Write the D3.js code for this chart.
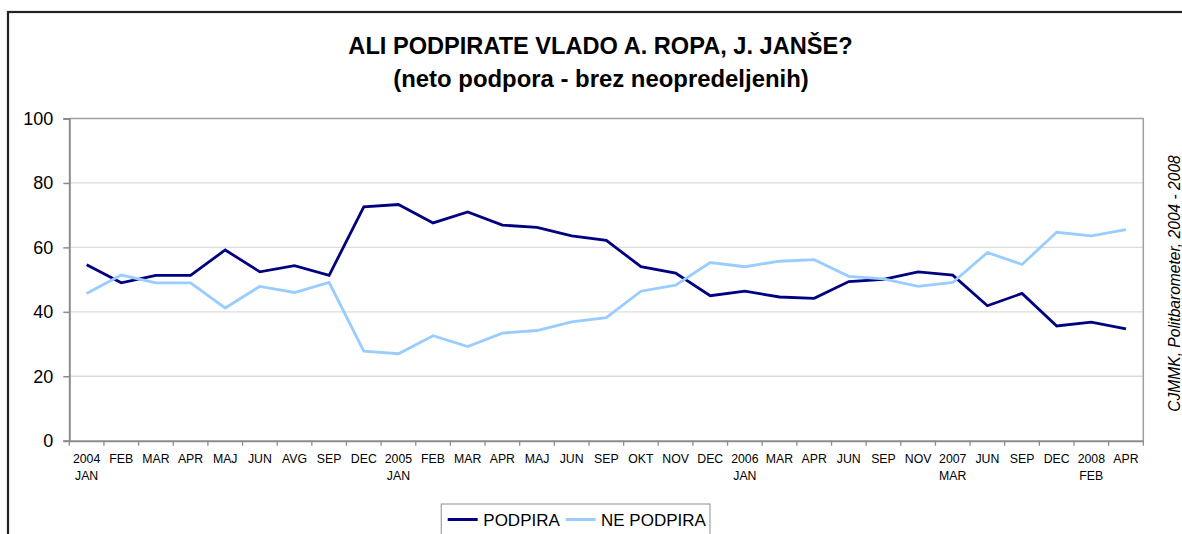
<!DOCTYPE html>
<html>
<head>
<meta charset="utf-8">
<script src="https://cdn.jsdelivr.net/npm/d3@7"></script>
<style>
  html, body { margin: 0; padding: 0; background: #fff; }
  svg { display: block; }
  text { font-family: "Liberation Sans", Arial, sans-serif; fill: #000; }
</style>
</head>
<body>
<svg id="chart" width="1182" height="534"></svg>
<script>
// ---- data ----
const yearLabels  = ["2004","","","","","","","","","2005","","","","","","","","","","2006","","","","","","2007","","","","2008",""];
const monthLabels = ["JAN","FEB","MAR","APR","MAJ","JUN","AVG","SEP","DEC","JAN","FEB","MAR","APR","MAJ","JUN","SEP","OKT","NOV","DEC","JAN","MAR","APR","JUN","SEP","NOV","MAR","JUN","SEP","DEC","FEB","APR"];
const podpira   = [54.6,49.0,51.3,51.3,59.2,52.4,54.3,51.3,72.6,73.3,67.6,71.0,66.9,66.2,63.6,62.2,54.0,52.0,45.0,46.4,44.6,44.2,49.4,50.1,52.4,51.4,41.9,45.7,35.6,36.8,34.7];
const nePodpira = [45.7,51.4,49.0,49.0,41.2,47.9,46.0,49.1,27.8,27.0,32.6,29.2,33.4,34.2,36.9,38.2,46.4,48.3,55.3,54.0,55.7,56.2,51.0,50.2,47.9,49.1,58.4,54.7,64.7,63.6,65.5];
const yTicks = [0,20,40,60,80,100];
const seriesNames = ["PODPIRA","NE PODPIRA"];
const title1 = "ALI PODPIRATE VLADO A. ROPA, J. JANŠE?";
const title2 = "(neto podpora - brez neopredeljenih)";
const sourceNote = "CJMMK, Politbarometer, 2004 - 2008";

// ---- layout ----
const svg = d3.select("#chart");
const pL = 69.3, pR = 1143.3, pT = 118.5, pB = 440.7;
const idx = d3.range(monthLabels.length);
const x = d3.scaleBand().domain(idx).range([pL, pR]).padding(0);
const y = d3.scaleLinear().domain([0, 100]).range([pB, pT]);
const colors = ["#000080", "#99ccff"];

// outer frame
svg.append("rect").attr("x", 8).attr("y", 12).attr("width", 1300).attr("height", 700)
  .attr("fill", "none").attr("stroke", "#222").attr("stroke-width", 2.2);

// titles
svg.append("text").attr("x", 600.5).attr("y", 54).attr("text-anchor", "middle")
  .style("font-size", "23.6px").style("font-weight", "bold").text(title1);
svg.append("text").attr("x", 601).attr("y", 86.7).attr("text-anchor", "middle")
  .style("font-size", "23.9px").style("font-weight", "bold").text(title2);

// gridlines
svg.append("g").selectAll("line").data(yTicks.filter(d => d > 0 && d < 100)).join("line")
  .attr("x1", pL).attr("x2", pR)
  .attr("y1", d => y(d)).attr("y2", d => y(d))
  .attr("stroke", "#dcdcdc").attr("stroke-width", 1.3);

// top and right border of plot
svg.append("path")
  .attr("d", `M${pL},${pT}H${pR}V${pB}`)
  .attr("fill", "none").attr("stroke", "#a0a0a0").attr("stroke-width", 1.5);

// y axis
const yAxis = svg.append("g").attr("transform", `translate(${pL},0)`)
  .call(d3.axisLeft(y).tickValues(yTicks).tickSize(6).tickPadding(10));
yAxis.select(".domain").attr("stroke", "#8c8c8c").attr("stroke-width", 2);
yAxis.selectAll(".tick line").attr("stroke", "#8c8c8c").attr("stroke-width", 1.5);
yAxis.selectAll(".tick text").style("font-size", "18px")
  .style("font-family", "'Liberation Sans', Arial, sans-serif").attr("fill", "#000");

// x axis
const xAxis = svg.append("g").attr("transform", `translate(0,${pB})`)
  .call(d3.axisBottom(x).tickSize(0).tickFormat(""));
xAxis.select(".domain").attr("stroke", "#8c8c8c").attr("stroke-width", 2);
xAxis.selectAll(".tick").remove();
const bounds = idx.map(i => x(i)).concat([pR]);
xAxis.append("g").selectAll("line").data(bounds).join("line")
  .attr("x1", d => d).attr("x2", d => d).attr("y1", 0).attr("y2", 5)
  .attr("stroke", "#8c8c8c").attr("stroke-width", 1.3);

// x labels
const lbl = svg.append("g").style("font-size", "12.3px");
idx.forEach(i => {
  const cx = x(i) + x.bandwidth() / 2;
  if (yearLabels[i]) {
    lbl.append("text").attr("x", cx).attr("y", 463.3).attr("text-anchor", "middle").text(yearLabels[i]);
    lbl.append("text").attr("x", cx).attr("y", 480).attr("text-anchor", "middle").text(monthLabels[i]);
  } else {
    lbl.append("text").attr("x", cx).attr("y", 463.3).attr("text-anchor", "middle").text(monthLabels[i]);
  }
});

// lines
const line = d3.line().x((d, i) => x(i) + x.bandwidth() / 2).y(d => y(d));
[podpira, nePodpira].forEach((s, k) => {
  svg.append("path").datum(s).attr("d", line)
    .attr("fill", "none").attr("stroke", colors[k]).attr("stroke-width", 2.8)
    .attr("stroke-linejoin", "miter");
});

// source note (rotated)
svg.append("text")
  .attr("transform", "translate(1180,283.5) rotate(-90)")
  .attr("text-anchor", "middle")
  .style("font-size", "15.6px").style("font-style", "italic")
  .text(sourceNote);

// legend
const lg = svg.append("g");
lg.append("rect").attr("x", 441.3).attr("y", 504).attr("width", 268.7).attr("height", 60)
  .attr("fill", "#fff").attr("stroke", "#a0a0a0").attr("stroke-width", 1.2);
const legendItems = [
  { name: seriesNames[0], color: colors[0], x1: 447.7, x2: 477.7, tx: 483.3 },
  { name: seriesNames[1], color: colors[1], x1: 565.7, x2: 595.7, tx: 601 }
];
legendItems.forEach(it => {
  lg.append("line").attr("x1", it.x1).attr("x2", it.x2).attr("y1", 519.5).attr("y2", 519.5)
    .attr("stroke", it.color).attr("stroke-width", 3);
  lg.append("text").attr("x", it.tx).attr("y", 526).style("font-size", "17px").text(it.name);
});
</script>
</body>
</html>
